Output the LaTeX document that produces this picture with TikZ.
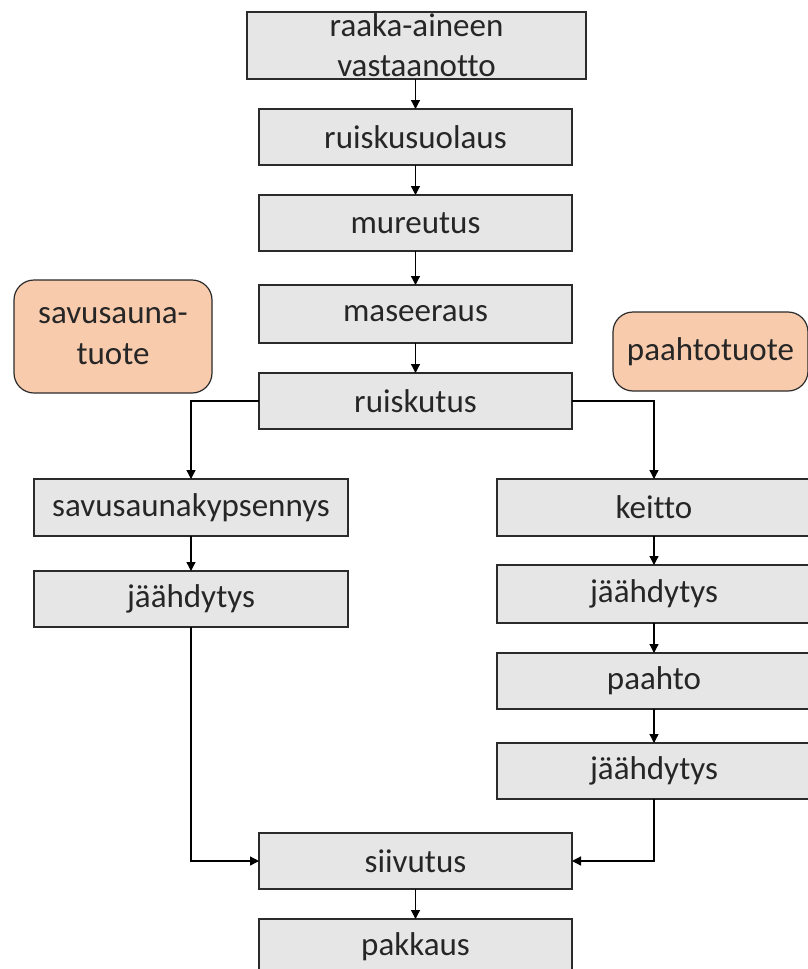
\documentclass[tikz,border=0pt]{standalone}
\usepackage{fontspec}
\setmainfont{Carlito}[Ligatures=NoCommon]
\usetikzlibrary{arrows.meta}
\definecolor{boxgray}{HTML}{E6E6E6}
\definecolor{boxorange}{HTML}{F8CBAD}
\definecolor{edgec}{HTML}{2B2B2B}
\definecolor{textc}{HTML}{262626}
\tikzset{
  stepbox/.style={draw=edgec, line width=1.5pt, fill=boxgray, inner sep=0pt, outer sep=0pt,
    text=textc, font=\fontsize{33}{40}\selectfont, align=center, anchor=center},
  prodbox/.style={draw=edgec, line width=1.2pt, fill=boxorange, rounded corners=20pt, inner sep=0pt, outer sep=0pt,
    text=textc, font=\fontsize{33}{41}\selectfont, align=center, anchor=center},
  flow/.style={draw=black, line width=1.3pt, -{Triangle[length=9pt,width=9pt]}}
}
\begin{document}
\begin{tikzpicture}[x=1pt,y=-1pt]
\clip (0,0) rectangle (808,969);
\fill[white] (0,0) rectangle (808,969);
\node[stepbox, minimum width=339pt, minimum height=67pt] (raaka) at (416.5,45.5) {raaka-aineen\\vastaanotto};
\node[stepbox, minimum width=313pt, minimum height=56pt] (ruisk) at (415.5,137) {ruiskusuolaus};
\node[stepbox, minimum width=313pt, minimum height=56pt] (mure) at (415.5,223) {mureutus};
\node[stepbox, minimum width=313pt, minimum height=58pt] (mase) at (415.5,314) {maseeraus};
\node[stepbox, minimum width=313pt, minimum height=56pt] (ruiskutus) at (415.5,401) {ruiskutus};
\node[stepbox, minimum width=314pt, minimum height=57pt] (savus) at (191,507.5) {savusaunakypsennys};
\node[stepbox, minimum width=314pt, minimum height=56pt] (jL) at (191,599) {jäähdytys};
\node[stepbox, minimum width=314pt, minimum height=57pt] (keitto) at (654,507.5) {keitto};
\node[stepbox, minimum width=314pt, minimum height=58pt] (jR1) at (654,594) {jäähdytys};
\node[stepbox, minimum width=314pt, minimum height=56pt] (paahto) at (654,681) {paahto};
\node[stepbox, minimum width=314pt, minimum height=56pt] (jR2) at (654,771) {jäähdytys};
\node[stepbox, minimum width=313pt, minimum height=56pt] (siiv) at (415.5,861) {siivutus};
\node[stepbox, minimum width=313pt, minimum height=56pt] (pakk) at (415.5,947) {pakkaus};
\node[prodbox, minimum width=198pt, minimum height=113pt] (savutuote) at (113,336.5) {savusauna-\\tuote};
\node[prodbox, minimum width=195pt, minimum height=79pt] (paahtotuote) at (710.5,351.5) {paahtotuote};
\draw[flow] (raaka.south -| ruisk.north) -- (ruisk.north);
\draw[flow] (ruisk) -- (mure);
\draw[flow] (mure) -- (mase);
\draw[flow] (mase) -- (ruiskutus);
\draw[flow] (ruiskutus.west) -| (savus.north);
\draw[flow] (ruiskutus.east) -| (keitto.north);
\draw[flow] (savus) -- (jL);
\draw[flow] (keitto) -- (jR1);
\draw[flow] (jR1) -- (paahto);
\draw[flow] (paahto) -- (jR2);
\draw[flow] (jL.south) |- (siiv.west);
\draw[flow] (jR2.south) |- (siiv.east);
\draw[flow] (siiv) -- (pakk);
\end{tikzpicture}
\end{document}
